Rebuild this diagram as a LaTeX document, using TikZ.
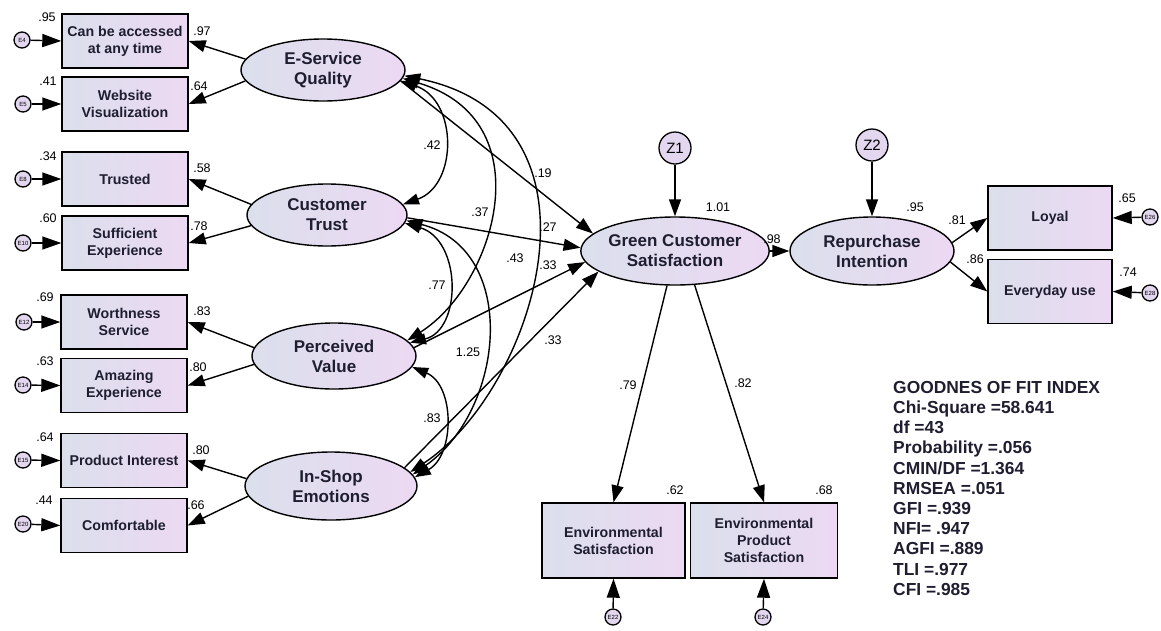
\documentclass[tikz,border=0pt]{standalone}
\usepackage{fontspec}
\setmainfont{Liberation Sans}
\usepackage{tikz}
\usetikzlibrary{shapes.geometric,arrows.meta}
\definecolor{semleft}{RGB}{219,223,236}
\definecolor{semright}{RGB}{236,217,243}
\definecolor{semerr}{RGB}{227,215,240}
\definecolor{semtext}{RGB}{30,30,48}

\begin{document}
\begin{tikzpicture}[x=1pt,y=-1pt,
    obs/.style={draw,line width=1.4pt,rectangle,inner sep=0pt,minimum width=126pt,minimum height=54pt,
        align=center,left color=semleft,right color=semright,text=semtext,font=\bfseries\fontsize{14.2}{17}\selectfont},
    lat/.style={draw,line width=1.4pt,ellipse,inner sep=0pt,align=center,
        left color=semleft,right color=semright,text=semtext,font=\bfseries\fontsize{17}{20}\selectfont},
    err/.style={draw,line width=1.3pt,circle,inner sep=0pt,minimum size=16pt,fill=semerr,font=\fontsize{6}{6}\selectfont},
    dist/.style={draw,line width=1.3pt,circle,inner sep=0pt,minimum size=32pt,fill=semerr,font=\fontsize{15}{16}\selectfont},
    coef/.style={inner sep=0pt,font=\fontsize{12.5}{14}\selectfont},
    pathln/.style={line width=1.4pt,-{Triangle[length=17pt,width=12pt]}},
    errln/.style={line width=1.4pt,-{Triangle[length=19pt,width=13pt]}},
    covln/.style={line width=1.4pt,{Triangle[length=16pt,width=11pt]}-{Triangle[length=16pt,width=11pt]}}]

    \useasboundingbox (0,0) rectangle (1161,630);

    \node[obs] (acc) at (125,41) {Can be accessed\\at any time};
    \node[obs] (web) at (125,104) {Website\\Visualization};
    \node[obs] (tru) at (125,179) {Trusted};
    \node[obs] (suf) at (125,243) {Sufficient\\Experience};
    \node[obs] (wor) at (124,322) {Worthness\\Service};
    \node[obs] (ama) at (124,385.5) {Amazing\\Experience};
    \node[obs] (pin) at (124,460.5) {Product Interest};
    \node[obs] (com) at (124,525.5) {Comfortable};

    \node[err] (e4) at (22,40) {E4};
    \node[err] (e5) at (23,104) {E5};
    \node[err] (e8) at (23,179) {E8};
    \node[err] (e10) at (23,243) {E10};
    \node[err] (e12) at (24,322) {E12};
    \node[err] (e14) at (23,385) {E14};
    \node[err] (e15) at (23,460) {E15};
    \node[err] (e20) at (23,524) {E20};
    \foreach \a/\b in {e4/acc,e5/web,e8/tru,e10/suf,e12/wor,e14/ama,e15/pin,e20/com}
        \draw[errln] (\a) -- (\b.west);

    \node[lat,minimum width=164pt,minimum height=62pt] (esq) at (323,70) {E-Service\\Quality};
    \node[lat,minimum width=160pt,minimum height=62pt] (ctr) at (327,215) {Customer\\Trust};
    \node[lat,minimum width=164pt,minimum height=66pt] (pva) at (334,356) {Perceived\\Value};
    \node[lat,minimum width=172pt,minimum height=68pt] (ise) at (331,486) {In-Shop\\Emotions};
    \node[lat,minimum width=166pt,minimum height=68pt] (gcs) at (675,251) {Green Customer\\Satisfaction};
    \node[lat,minimum width=164pt,minimum height=68pt] (rpi) at (872,251) {Repurchase\\Intention};

    \node[dist] (z1) at (675,148) {Z1};
    \node[dist] (z2) at (872,145) {Z2};

    \node[obs,minimum width=124pt,minimum height=64pt] (loy) at (1050,218) {Loyal};
    \node[obs,minimum width=124pt,minimum height=64pt] (evd) at (1050,291.5) {Everyday use};
    \node[obs,minimum width=143pt,minimum height=75pt] (ens) at (613.5,540.5) {Environmental\\Satisfaction};
    \node[obs,minimum width=147pt,minimum height=75pt] (enp) at (764,540.5) {Environmental\\Product\\Satisfaction};

    \node[err] (e26) at (1150,217) {E26};
    \node[err] (e28) at (1150,293) {E28};
    \node[err] (e22) at (613,617) {E22};
    \node[err] (e24) at (763,617) {E24};
    \draw[errln] (e26) -- (loy.east);
    \draw[errln] (e28) -- (evd.east);
    \draw[errln] (e22) -- (ens.south);
    \draw[errln] (e24) -- (enp.south);

    \draw[pathln] (esq.172) -- (acc.east);
    \draw[pathln] (esq.188) -- (web.east);
    \draw[pathln] (ctr.172) -- (tru.east);
    \draw[pathln] (ctr.188) -- (suf.east);
    \draw[pathln] (pva.174) -- (wor.east);
    \draw[pathln] (pva.186) -- (ama.east);
    \draw[pathln] (ise.175) -- (pin.east);
    \draw[pathln] (ise.187) -- (com.east);

    \draw[pathln] (esq.-8) -- (gcs.168);
    \draw[pathln] (ctr.-2) -- (gcs.178);
    \draw[pathln] (pva.6) -- (gcs.187);
    \draw[pathln] (ise.14) -- (gcs.195);
    \draw[pathln] (z1) -- (gcs.north);
    \draw[pathln] (z2) -- (rpi.north);
    \draw[pathln] (gcs) -- (rpi);
    \draw[pathln] (rpi.6) -- (loy.west);
    \draw[pathln] (rpi.-8) -- (evd.west);
    \draw[pathln] (gcs.-103) -- (ens.north);
    \draw[pathln] (gcs.-60) -- (enp.north);

    \draw[covln] (esq.-8) .. controls (458,100) and (458,185) .. (ctr.8);
    \draw[covln] (ctr.-6) .. controls (462,240) and (462,330) .. (pva.10);
    \draw[covln] (pva.-8) .. controls (455,385) and (455,455) .. (ise.6);
    \draw[covln] (esq.-6) .. controls (545,120) and (495,285) .. (pva.12);
    \draw[covln] (ctr.-4) .. controls (520,250) and (505,410) .. (ise.8);
    \draw[covln] (esq.-4) .. controls (620,120) and (535,390) .. (ise.10);

    \node[coef] (v95) at (47,17) {.95};
    \node[coef] (v41) at (48,81) {.41};
    \node[coef] (v34) at (48,156) {.34};
    \node[coef] (v60) at (48,218) {.60};
    \node[coef] (v69) at (45,297) {.69};
    \node[coef] (v63) at (45,361) {.63};
    \node[coef] (v64) at (45,437) {.64};
    \node[coef] (v44) at (44,500) {.44};

    \node[coef] (l97) at (202,31) {.97};
    \node[coef] (l64) at (199,86) {.64};
    \node[coef] (l58) at (202,168) {.58};
    \node[coef] (l78) at (199,226) {.78};
    \node[coef] (l83) at (202,311) {.83};
    \node[coef] (l80a) at (198,367) {.80};
    \node[coef] (l80b) at (201,450) {.80};
    \node[coef] (l66) at (196,505) {.66};

    \node[coef] (c42) at (432,145) {.42};
    \node[coef] (c37) at (480,212) {.37};
    \node[coef] (c77) at (437,285) {.77};
    \node[coef] (c125) at (468,352) {1.25};
    \node[coef] (c43) at (515,258) {.43};
    \node[coef] (c83) at (432,418) {.83};

    \node[coef] (b19) at (543,173) {.19};
    \node[coef] (b27) at (548,227) {.27};
    \node[coef] (b33a) at (548,265) {.33};
    \node[coef] (b33b) at (553,340) {.33};
    \node[coef] (r101) at (718,207) {1.01};
    \node[coef] (b98) at (772,239) {.98};
    \node[coef] (l79) at (628,385) {.79};
    \node[coef] (l82) at (743,383) {.82};
    \node[coef] (r95) at (915,207) {.95};
    \node[coef] (l81) at (957,220) {.81};
    \node[coef] (l86) at (975,259) {.86};
    \node[coef] (v65) at (1127,198) {.65};
    \node[coef] (v74) at (1128,272) {.74};
    \node[coef] (v62) at (675,490) {.62};
    \node[coef] (v68) at (824,490) {.68};

    \node[anchor=north west,inner sep=0pt,align=left,font=\bfseries\fontsize{17.4}{20.2}\selectfont,text=semtext] (fit) at (893,381)
        {GOODNES OF FIT INDEX\\Chi-Square =58.641\\df =43\\Probability =.056\\CMIN/DF =1.364\\RMSEA =.051\\GFI =.939\\NFI= .947\\AGFI =.889\\TLI =.977\\CFI =.985};
\end{tikzpicture}
\end{document}
